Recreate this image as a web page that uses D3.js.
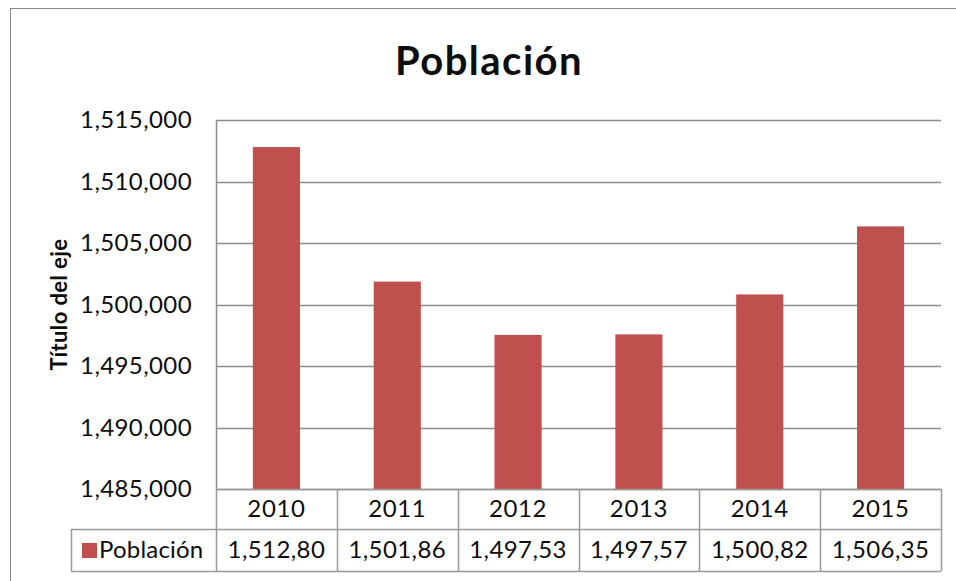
<!DOCTYPE html>
<html>
<head>
<meta charset="utf-8">
<script src="https://cdn.jsdelivr.net/npm/d3@7"></script>
<style>
  body { margin: 0; background: #fff; }
  svg { display: block; font-family: Lato, "Open Sans", sans-serif; }
</style>
</head>
<body>
<svg width="956" height="581"></svg>
<script>
const years = ['2010', '2011', '2012', '2013', '2014', '2015'];
const poblacion = [1512800, 1501860, 1497530, 1497570, 1500820, 1506350];
const tableLabels = ['1,512,80', '1,501,86', '1,497,53', '1,497,57', '1,500,82', '1,506,35'];
const yTicks = [1485000, 1490000, 1495000, 1500000, 1505000, 1510000, 1515000];

const data = years.map((y, i) => ({ year: y, value: poblacion[i], label: tableLabels[i] }));

const plotLeft = 216, plotRight = 941, plotTop = 120, plotBottom = 489;
const rowH = [40, 42]; // category row, value row
const legendLeft = 71;
const gridColor = '#8c8c8c';
const barColor = '#c0504d';
const textColor = '#0d0d0d';

const svg = d3.select('svg');

// outer chart frame
svg.append('rect')
    .attr('x', 10.5).attr('y', 8.5)
    .attr('width', 980).attr('height', 620)
    .attr('fill', 'none')
    .attr('stroke', '#8a8a8a');

const xCol = d3.scaleBand().domain(years).range([plotLeft, plotRight]);
const xBar = d3.scaleBand().domain(years).range([plotLeft, plotRight])
    .paddingInner(0.61).paddingOuter(0.305);
const y = d3.scaleLinear().domain([1485000, 1515000]).range([plotBottom, plotTop]);

// gridlines
svg.append('g')
    .selectAll('line')
    .data(yTicks)
    .enter()
    .append('line')
    .attr('x1', plotLeft).attr('x2', plotRight)
    .attr('y1', d => Math.round(y(d)) + 0.5)
    .attr('y2', d => Math.round(y(d)) + 0.5)
    .attr('stroke', gridColor)
    .attr('stroke-width', 1.5);

// y axis (labels only, line drawn below)
const yAxis = svg.append('g')
    .attr('transform', `translate(${plotLeft},0)`)
    .call(d3.axisLeft(y).tickValues(yTicks).tickFormat(d3.format(',')).tickSize(0).tickPadding(24));
yAxis.select('.domain').remove();
yAxis.selectAll('text')
    .attr('font-size', 24)
    .attr('letter-spacing', 0.4)
    .attr('fill', textColor)
    .attr('font-family', 'Lato, sans-serif');

svg.append('line')
    .attr('x1', plotLeft + 0.5).attr('x2', plotLeft + 0.5)
    .attr('y1', plotTop).attr('y2', plotBottom)
    .attr('stroke', gridColor).attr('stroke-width', 1.5);

// bars
svg.append('g')
    .selectAll('rect')
    .data(data)
    .enter()
    .append('rect')
    .attr('x', d => xBar(d.year))
    .attr('width', xBar.bandwidth())
    .attr('y', d => y(d.value))
    .attr('height', d => plotBottom - y(d.value))
    .attr('fill', barColor);

// data table
const table = svg.append('g')
    .attr('stroke', '#9a9a9a')
    .attr('stroke-width', 1.5)
    .attr('fill', 'none');
const row1 = plotBottom + rowH[0];
const row2 = row1 + rowH[1];
table.append('line').attr('x1', plotLeft).attr('x2', plotRight).attr('y1', plotBottom + 0.5).attr('y2', plotBottom + 0.5);
table.append('line').attr('x1', legendLeft).attr('x2', plotRight).attr('y1', row1 + 0.5).attr('y2', row1 + 0.5);
table.append('line').attr('x1', legendLeft).attr('x2', plotRight).attr('y1', row2 + 0.5).attr('y2', row2 + 0.5);
table.append('line').attr('x1', legendLeft + 0.5).attr('x2', legendLeft + 0.5).attr('y1', row1).attr('y2', row2);
table.selectAll('.vline')
    .data(years.concat(['end']))
    .enter()
    .append('line')
    .attr('x1', (d, i) => Math.round(i < years.length ? xCol(d) : plotRight) + 0.5)
    .attr('x2', (d, i) => Math.round(i < years.length ? xCol(d) : plotRight) + 0.5)
    .attr('y1', plotBottom).attr('y2', row2);

svg.append('g')
    .selectAll('text')
    .data(data)
    .enter()
    .append('text')
    .attr('x', d => xCol(d.year) + xCol.bandwidth() / 2)
    .attr('y', plotBottom + 28)
    .attr('text-anchor', 'middle')
    .attr('font-size', 24)
    .attr('letter-spacing', 0.6)
    .attr('fill', textColor)
    .text(d => d.year);

svg.append('g')
    .selectAll('text')
    .data(data)
    .enter()
    .append('text')
    .attr('x', d => xCol(d.year) + xCol.bandwidth() / 2)
    .attr('y', row1 + 29)
    .attr('text-anchor', 'middle')
    .attr('font-size', 24)
    .attr('letter-spacing', 0.4)
    .attr('fill', textColor)
    .text(d => d.label);

// legend key in table
svg.append('rect')
    .attr('x', 82).attr('y', 543)
    .attr('width', 15).attr('height', 15)
    .attr('fill', barColor);
svg.append('text')
    .attr('x', 99).attr('y', row1 + 29)
    .attr('font-size', 24)
    .attr('letter-spacing', 0.2)
    .attr('fill', textColor)
    .text('Población');

// title
svg.append('text')
    .attr('x', 489).attr('y', 75)
    .attr('text-anchor', 'middle')
    .attr('font-size', 40)
    .attr('letter-spacing', 1.5)
    .attr('font-weight', 'bold')
    .attr('fill', textColor)
    .text('Población');

// y axis title
svg.append('text')
    .attr('transform', `translate(67,${(plotTop + plotBottom) / 2}) rotate(-90)`)
    .attr('text-anchor', 'middle')
    .attr('font-size', 22)
    .attr('letter-spacing', 0.4)
    .attr('font-weight', 'bold')
    .attr('fill', textColor)
    .text('Título del eje');
</script>
</body>
</html>
